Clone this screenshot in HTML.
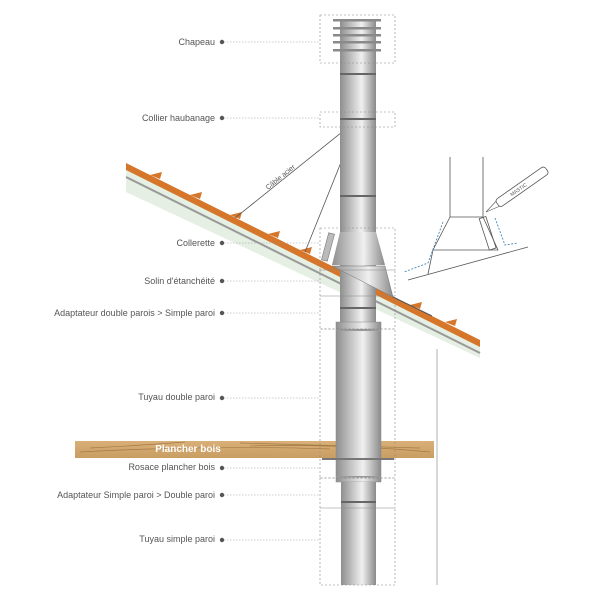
<!DOCTYPE html>
<html><head><meta charset="utf-8"><style>
html,body{margin:0;padding:0;background:#fff;}
svg{display:block;}
text{font-family:"Liberation Sans",sans-serif;}
</style></head><body>
<svg width="600" height="600" viewBox="0 0 600 600" xmlns="http://www.w3.org/2000/svg">
<defs>
<linearGradient id="pg" x1="0" x2="1" y1="0" y2="0">
<stop offset="0" stop-color="#8e8e8e"/><stop offset="0.45" stop-color="#d8d8d8"/><stop offset="0.6" stop-color="#f0f0f0"/><stop offset="1" stop-color="#8a8a8a"/>
</linearGradient>
<linearGradient id="wood" x1="0" x2="0" y1="0" y2="1">
<stop offset="0" stop-color="#d9b079"/><stop offset="1" stop-color="#c99d62"/>
</linearGradient>
</defs>

<!-- roof -->
<polygon points="126,163 480,340 480,358 126,192" fill="#e6efe3"/>
<polygon points="126,163 480,340 480,347 126,170" fill="#d5762a"/>
<line x1="126" y1="177" x2="480" y2="353" stroke="#999" stroke-width="2"/>
<g fill="#d5762a">
<polygon points="150,175 162,172 160,179"/><polygon points="190,195 202,192 200,199"/>
<polygon points="230,215 242,212 240,219"/><polygon points="268,234 280,231 278,238"/>
<polygon points="300,250 312,247 310,254"/><polygon points="410,305 422,302 420,309"/>
<polygon points="445,322 457,319 455,326"/>
</g>
<line x1="437" y1="349" x2="437" y2="585" stroke="#ccc" stroke-width="1.5"/>

<!-- floor -->
<rect x="75" y="441" width="359" height="17" fill="url(#wood)"/>
<path d="M80,452 C150,448 250,446 330,449 M90,448 C130,446 160,444 185,442 M250,446 C300,444 380,447 430,452 M240,443 C300,445 360,446 420,448" stroke="#a57b45" stroke-width="0.7" fill="none"/>
<text x="188" y="452" font-size="10" font-weight="bold" fill="#fff" text-anchor="middle">Plancher bois</text>

<!-- cables -->
<line x1="357" y1="120" x2="235" y2="218" stroke="#555" stroke-width="0.8"/>
<line x1="358" y1="120" x2="305" y2="252" stroke="#555" stroke-width="0.8"/>
<text x="0" y="0" font-size="7" fill="#555" transform="translate(268,190) rotate(-39)">Câble acier</text>

<!-- pipe upper -->
<rect x="340" y="55" width="36" height="270" fill="url(#pg)"/>
<rect x="340" y="20" width="36" height="40" fill="url(#pg)"/>
<g fill="#8a8a8a">
<rect x="333" y="19" width="48" height="2.5"/><rect x="333" y="27" width="48" height="2.5"/>
<rect x="333" y="34" width="48" height="2.5"/><rect x="333" y="41" width="48" height="2.5"/>
<rect x="333" y="49" width="48" height="2.5"/>
</g>
<g fill="#666">
<rect x="340" y="73" width="36" height="2"/><rect x="340" y="118" width="36" height="2"/>
<rect x="340" y="195" width="36" height="2"/><rect x="340" y="307" width="36" height="2"/>
</g>
<!-- collerette -->
<polygon points="340,232 376,232 385,265 332,265" fill="url(#pg)"/>
<rect x="325" y="233" width="6" height="28" fill="#bbb" stroke="#777" stroke-width="0.6" transform="rotate(15 328 247)"/>
<!-- solin -->
<polygon points="332,266 385,266 393,297" fill="url(#pg)" stroke="#777" stroke-width="0.5"/>
<line x1="393" y1="297" x2="432" y2="316" stroke="#555" stroke-width="1"/>

<!-- double pipe -->
<rect x="336" y="322" width="45" height="160" fill="url(#pg)" stroke="#888" stroke-width="0.5"/>
<rect x="336" y="329" width="45" height="2" fill="#999"/>
<rect x="322" y="458" width="72" height="2" fill="#777"/>
<rect x="336" y="476" width="45" height="1.5" fill="#999"/>
<rect x="341" y="482" width="35" height="103" fill="url(#pg)"/>
<rect x="341" y="501" width="35" height="2" fill="#666"/>

<!-- dashed boxes -->
<g fill="none" stroke="#888" stroke-width="0.6" stroke-dasharray="2,2">
<rect x="320" y="15" width="75" height="48"/>
<rect x="320" y="112" width="75" height="15"/>
<rect x="320" y="228" width="75" height="42"/>
<rect x="320" y="270" width="75" height="26"/>
<rect x="320" y="296" width="75" height="33"/>
<rect x="320" y="329" width="75" height="149"/>
<rect x="320" y="478" width="75" height="30"/>
<rect x="320" y="508" width="75" height="77"/>
</g>

<!-- labels -->
<g font-size="9" fill="#555" text-anchor="end">
<text x="215" y="45">Chapeau</text>
<text x="215" y="121">Collier haubanage</text>
<text x="215" y="246">Collerette</text>
<text x="215" y="284">Solin d'étanchéité</text>
<text x="215" y="316">Adaptateur double parois &gt; Simple paroi</text>
<text x="215" y="400">Tuyau double paroi</text>
<text x="215" y="470">Rosace  plancher bois</text>
<text x="215" y="498">Adaptateur Simple paroi &gt; Double paroi</text>
<text x="215" y="542">Tuyau simple paroi</text>
</g>
<g fill="#555">
<circle cx="222" cy="42" r="2.2"/><circle cx="222" cy="118" r="2.2"/><circle cx="222" cy="243" r="2.2"/>
<circle cx="222" cy="281" r="2.2"/><circle cx="222" cy="313" r="2.2"/><circle cx="222" cy="398" r="2.2"/>
<circle cx="222" cy="468" r="2.2"/><circle cx="222" cy="495" r="2.2"/><circle cx="222" cy="540" r="2.2"/>
</g>
<g stroke="#999" stroke-width="0.6" stroke-dasharray="1.5,1.5">
<line x1="224" y1="42" x2="320" y2="42"/><line x1="224" y1="118" x2="320" y2="118"/>
<line x1="224" y1="243" x2="320" y2="243"/><line x1="224" y1="281" x2="320" y2="281"/>
<line x1="224" y1="313" x2="320" y2="313"/><line x1="224" y1="398" x2="320" y2="398"/>
<line x1="224" y1="468" x2="320" y2="468"/><line x1="224" y1="495" x2="320" y2="495"/>
<line x1="224" y1="540" x2="320" y2="540"/>
</g>

<!-- inset -->
<g stroke="#555" stroke-width="0.8" fill="none">
<line x1="450" y1="157" x2="450" y2="217"/><line x1="483" y1="157" x2="483" y2="217"/>
<polyline points="450,217 483,217 498,250 433,250 450,217"/>
<line x1="433" y1="250" x2="428" y2="274"/>
<line x1="408" y1="280" x2="528" y2="247"/>
<rect x="484" y="217" width="7" height="33" transform="rotate(-18 487 233)"/>
</g>
<g transform="translate(486,212) rotate(-35)">
<rect x="14" y="-4.5" width="60" height="9" rx="3" fill="#fff" stroke="#555" stroke-width="0.8"/>
<polygon points="0,0 14,-3 14,3" fill="#fff" stroke="#555" stroke-width="0.6"/>
<text x="30" y="2" font-size="5" fill="#555">MASTIC</text>
</g>
<g stroke="#4a8ab8" stroke-width="0.9" fill="none" stroke-dasharray="2,1.5">
<polyline points="443,222 428,263 404,272"/>
<polyline points="495,218 505,245 518,243"/>
</g>
</svg>
</body></html>
